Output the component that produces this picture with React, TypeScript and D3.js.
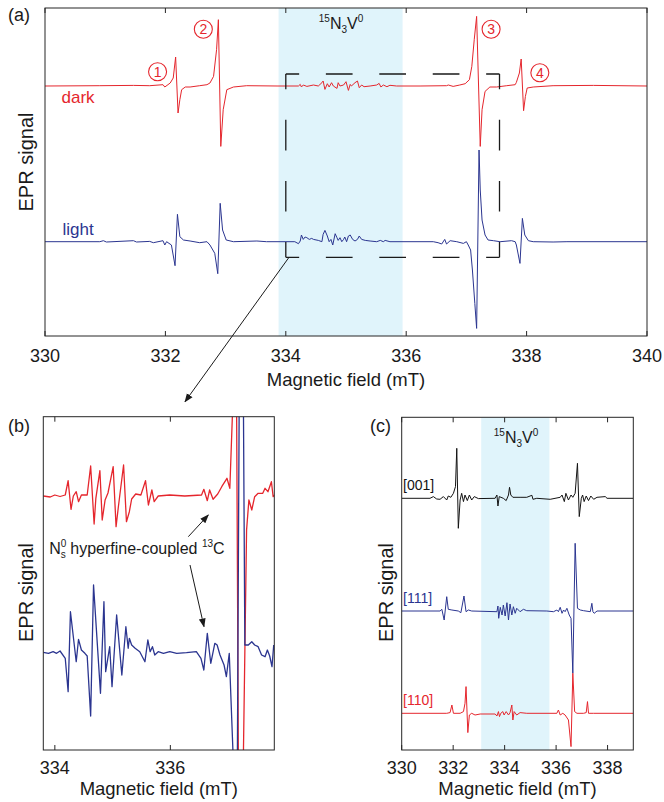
import React from "react";
import * as d3 from "d3";

type Pt = [number, number];

const FONT = "'Liberation Sans', Arial, Helvetica, sans-serif";
const RED = "#E5262D";
const BLUE = "#2B3590";
const BLACK = "#141414";
const SHADE = "#E0F4FB";
const AXIS = "#262626";

// ---------- Panel (a) ----------
const aTicks = [330, 332, 334, 336, 338, 340];
const aShade: Pt = [333.88, 335.94];
const aDarkOffset = 25;
const aLightOffset = 9.43;
const aDark: Pt[] = [
  [330.0, 0], [330.91, 0.03], [331.47, 0.06], [331.74, 0.03], [331.96, 0.13], [331.99, -0.1], [332.08, 0.3], [332.13, 0.8],
  [332.17, 2.9], [332.21, -2.7], [332.24, -1.37], [332.27, -0.37], [332.33, -0.1], [332.41, -0.1], [332.57, 0.03], [332.69, 0.13],
  [332.74, 0.3], [332.8, 0.96], [332.85, 3.63], [332.88, 6.63], [332.92, -6.04], [332.96, -2.37], [333.02, -0.37], [333.13, -0.1],
  [333.35, 0.03], [333.87, 0], [334.21, 0], [334.24, 0.16], [334.26, -0.1], [334.29, 0.1], [334.35, -0.04], [334.46, 0.1],
  [334.54, 0], [334.6, 0.33], [334.62, 0.5], [334.65, -0.34], [334.69, 0.23], [334.72, -0.1], [334.76, 0.33], [334.79, 0],
  [334.85, -0.24], [334.87, 0.33], [334.9, 0], [334.96, 0.1], [335.0, 0.43], [335.04, -0.44], [335.07, 0.16], [335.09, 0],
  [335.15, 0.33], [335.19, 0.5], [335.22, -0.17], [335.26, 0.1], [335.3, -0.07], [335.4, 0], [335.51, 0.1], [335.55, 0.26],
  [335.58, -0.1], [335.62, 0.1], [335.68, -0.07], [335.73, 0.07], [335.84, 0], [336.23, 0], [336.67, 0.03], [336.7, 0.1],
  [336.78, -0.04], [336.89, 0.1], [336.98, 0.23], [337.05, 0.63], [337.09, 1.96], [337.13, 4.63], [337.17, 6.96], [337.23, -6.04],
  [337.26, -2.37], [337.31, -0.54], [337.39, -0.1], [337.5, -0.1], [337.67, 0.03], [337.81, 0.13], [337.83, 0.36], [337.88, 1.3],
  [337.91, 2.7], [337.95, -2.47], [337.98, -1.04], [338.01, -0.2], [338.11, -0.1], [338.44, 0.03], [339.11, 0.06], [340.0, 0],
];
const aLight: Pt[] = [
  [330.0, 0], [330.91, 0], [330.97, 0.1], [331.02, -0.03], [331.47, 0.1], [331.52, -0.03], [331.74, 0.03], [331.8, -0.1],
  [331.96, 0.1], [331.99, -0.33], [332.02, 0], [332.1, -0.33], [332.16, -2.4], [332.2, 2.74], [332.24, 0.5], [332.3, 0.17],
  [332.41, 0.07], [332.57, -0.1], [332.69, 0], [332.74, -0.33], [332.82, -1.16], [332.87, -3.2], [332.91, 3.84], [332.95, 1.17],
  [333.01, 0.17], [333.13, 0], [333.52, 0.07], [333.68, 0], [334.15, 0], [334.21, -0.2], [334.24, 0.07], [334.26, 0.67],
  [334.29, 0.23], [334.32, 0.47], [334.35, 0.4], [334.39, 0.23], [334.43, 0.33], [334.46, 0.23], [334.54, 0.13], [334.6, 0],
  [334.62, 0.73], [334.65, 1.13], [334.69, 0.57], [334.72, 0], [334.75, 0.23], [334.78, -0.33], [334.82, 0.8], [334.85, 0.4],
  [334.87, 0.13], [334.9, 0.4], [334.93, 0], [334.96, 0.23], [334.98, 0.47], [335.01, 0], [335.04, 0.57], [335.07, 0.67],
  [335.11, 0.23], [335.15, 0.07], [335.19, 0.23], [335.22, 0.57], [335.26, 0.23], [335.32, 0.13], [335.4, 0.07], [335.51, 0],
  [335.57, 0.13], [335.62, 0], [335.65, 0.13], [335.73, 0], [336.45, 0], [336.53, -0.1], [336.59, -0.23], [336.64, 0.23],
  [336.67, -0.23], [336.73, 0.1], [336.84, 0], [336.95, -0.17], [337.0, 0], [337.03, -0.33], [337.07, -0.83], [337.1, -2.83],
  [337.14, -6.17], [337.17, -8.67], [337.21, 9.17], [337.23, 5.17], [337.26, 2.17], [337.31, 0.67], [337.36, 0.17], [337.45, 0.1],
  [337.56, 0], [337.75, 0.1], [337.81, 0], [337.83, -0.33], [337.89, -2.17], [337.93, 2.33], [337.97, 0.67], [338.03, 0.1],
  [338.11, 0], [338.44, -0.03], [338.67, 0], [340.0, 0],
];
const aZoomBox = { x0: 334.0, x1: 337.55, y0: 7.87, y1: 26.2 };
const aPeakLabels: { n: string; x: number; y: number }[] = [
  { n: "1", x: 331.87, y: 26.43 },
  { n: "2", x: 332.63, y: 30.67 },
  { n: "3", x: 337.41, y: 30.67 },
  { n: "4", x: 338.22, y: 26.33 },
];

// ---------- Panel (b) ----------
const bTicks = [334, 336];
const bRedOffset = 25.4;
const bBlueOffset = 9.77;
const bRed: Pt[] = [
  [333.8, 0], [333.92, -0.1], [334.0, 0.1], [334.09, -0.05], [334.18, 0.1], [334.23, 1.53], [334.28, -1.33], [334.32, 0],
  [334.37, 0.43], [334.41, -0.57], [334.46, 0.1], [334.56, 0.1], [334.62, 3.0], [334.68, -2.8], [334.71, -0.23], [334.78, 2.53],
  [334.82, -2.4], [334.87, -0.4], [334.92, 0.3], [335.01, 2.93], [335.06, -3.07], [335.1, -1.07], [335.19, 3.1], [335.24, -2.57],
  [335.29, -1.57], [335.33, -0.3], [335.4, 0.2], [335.49, 0.1], [335.57, 1.53], [335.62, -0.9], [335.68, 0.6], [335.72, -0.57],
  [335.79, 0], [335.99, 0.1], [336.25, 0], [336.54, 0.1], [336.58, 0.67], [336.64, -0.47], [336.68, 0.6], [336.74, -0.33],
  [336.82, 0.2], [336.89, 0.93], [336.98, 1.77], [337.03, 0.77], [337.09, 10.6], [337.12, 40], [337.19, -40], [337.23, -40],
  [337.32, -3.4], [337.36, -0.4], [337.41, -1.4], [337.46, -0.07], [337.52, 0.27], [337.6, 0.27], [337.64, 0.77], [337.69, 0.43],
  [337.75, 1.43], [337.78, -0.07], [337.8, 0.1],
];
const bBlue: Pt[] = [
  [333.8, 0], [333.89, -0.1], [333.97, 0.06], [334.03, -0.1], [334.09, 0.13], [334.18, -0.6], [334.23, -3.94], [334.27, 4.06],
  [334.37, -0.94], [334.41, 1.3], [334.46, 0.23], [334.52, -0.1], [334.56, -0.37], [334.62, -6.37], [334.67, 6.73], [334.79, -4.1],
  [334.85, 5.06], [334.88, -1.94], [334.95, 0.56], [334.99, -3.44], [335.07, 3.73], [335.16, -2.27], [335.23, 2.56], [335.27, 0.4],
  [335.29, 1.4], [335.33, 0.73], [335.39, 0.4], [335.47, 0.06], [335.56, -0.94], [335.61, 1.23], [335.65, 0.06], [335.69, 0.56],
  [335.73, -0.27], [335.79, 0.06], [335.88, -0.1], [335.99, 0.06], [336.11, -0.1], [336.28, -0.04], [336.45, 0.06], [336.53, -0.6],
  [336.58, -1.77], [336.64, 1.9], [336.7, -1.1], [336.77, 0.9], [336.81, 0.73], [336.86, -0.27], [336.93, -1.27], [336.97, -2.44],
  [337.02, -0.1], [337.09, -10.8], [337.13, -45], [337.21, 45], [337.26, 30], [337.29, 0.73], [337.35, 0.73], [337.41, 1.06],
  [337.46, 0.73], [337.52, 0.56], [337.58, -0.27], [337.64, -0.44], [337.68, 0.23], [337.72, -0.37], [337.76, -1.44], [337.79, 0.73],
];

// ---------- Panel (c) ----------
const cTicks = [330, 332, 334, 336, 338];
const cShade: Pt = [333.09, 335.74];
const cLabels = ["[001]", "[111]", "[110]"];
const cOffsets = [25.17, 13.9, 3.67];
const c001: Pt[] = [
  [330.0, 0], [331.1, 0], [331.23, 0.17], [331.36, -0.07], [331.49, -0.1], [331.62, 0.17], [331.75, -0.17], [331.81, 0.23],
  [331.91, 0.1], [332.01, 0.5], [332.09, 1.17], [332.14, 5.0], [332.2, -3.0], [332.27, -0.17], [332.33, 0.5], [332.4, -0.33],
  [332.46, 0.33], [332.55, -0.23], [332.63, 0.33], [332.72, -0.17], [332.82, 0.17], [332.98, -0.03], [333.63, 0], [333.7, 0.33],
  [333.74, -0.77], [333.79, 0.17], [333.95, 0], [334.06, -0.23], [334.15, 0.33], [334.19, 1.1], [334.24, 0.33], [334.32, 0.1],
  [334.6, 0.1], [334.86, 0.1], [335.06, 0.3], [335.1, -0.1], [335.25, 0], [335.77, -0.1], [336.16, 0.1], [336.23, 0.33],
  [336.32, -0.33], [336.38, 0.5], [336.48, -0.17], [336.58, 0.33], [336.65, 0.1], [336.74, 0.5], [336.83, 3.5], [336.9, -1.83],
  [336.98, 0], [337.03, 0.33], [337.09, -0.33], [337.17, 0.23], [337.26, -0.23], [337.35, 0.23], [337.46, -0.1], [337.59, 0.1],
  [337.91, 0.17], [337.98, 0], [339.0, 0],
];
const c111: Pt[] = [
  [330.0, 0], [331.49, 0], [331.56, 0.17], [331.65, -0.9], [331.75, 1.43], [331.81, 0.17], [331.95, 0.1], [332.2, 0],
  [332.3, -0.17], [332.42, 1.5], [332.5, -0.07], [332.59, 0.1], [332.72, 0], [333.7, -0.07], [333.74, 0.5], [333.77, -0.73],
  [333.83, 0.37], [333.9, -0.4], [333.95, 0.6], [334.02, -0.5], [334.09, 0.83], [334.15, -0.9], [334.21, 0.7], [334.28, -0.4],
  [334.34, 0.43], [334.41, -0.23], [334.47, 0.27], [334.6, -0.07], [334.73, 0.17], [334.86, 0.03], [335.64, 0], [335.9, -0.07],
  [336.03, 0.1], [336.09, -0.07], [336.16, 0.37], [336.23, -0.23], [336.29, 0.1], [336.35, -0.07], [336.42, 0.27], [336.51, -0.4],
  [336.58, -0.73], [336.65, -6.23], [336.74, 6.77], [336.83, 0.27], [336.94, 0.1], [337.07, 0.03], [337.33, -0.07], [337.39, 0.77],
  [337.43, -0.07], [337.48, -0.23], [337.59, 0], [339.0, 0],
];
const c110: Pt[] = [
  [330.0, 0], [331.75, 0], [331.88, 0.07], [331.95, 0.83], [332.01, 0], [332.27, 0], [332.4, 0.17], [332.46, 1.0],
  [332.5, 2.67], [332.57, -1.93], [332.63, -0.17], [332.72, 0], [332.85, -0.17], [333.05, -0.07], [333.63, -0.07], [333.7, -0.27],
  [333.76, 0.17], [333.8, -0.33], [333.85, 0], [333.93, 0.17], [333.98, -0.17], [334.06, 0.17], [334.15, -0.17], [334.21, 0.07],
  [334.28, 0.83], [334.32, -0.67], [334.37, 0.17], [334.47, -0.17], [334.6, 0.07], [334.86, 0], [336.03, 0], [336.09, 0.33],
  [336.16, -0.17], [336.26, 0], [336.35, -0.17], [336.48, -0.67], [336.58, -3.33], [336.65, 4.0], [336.72, 0.17], [336.81, 0],
  [337.07, 0], [337.17, 0.07], [337.22, 1.17], [337.26, 0], [337.46, 0], [339.0, 0],
];

type Scale = d3.ScaleLinear<number, number>;

function Trace({ data, offset, x, y, color, width, clip }: { data: Pt[]; offset: number; x: Scale; y: Scale; color: string; width: number; clip: string }) {
  const line = d3.line<Pt>().x((d) => x(d[0])).y((d) => y(d[1] + offset));
  return <path d={line(data) || ""} fill="none" stroke={color} strokeWidth={width} strokeLinejoin="round" clipPath={`url(#${clip})`} />;
}

function Frame({ x, y, ticks, labelGap, xlabelY }: { x: Scale; y: Scale; ticks: number[]; labelGap: number; xlabelY: number }) {
  const [xa, xb] = x.range();
  const [yb, yt] = y.range();
  return (
    <g>
      <rect x={xa} y={yt} width={xb - xa} height={yb - yt} fill="none" stroke={AXIS} strokeWidth={1} />
      {ticks.map((t) => (
        <g key={t}>
          <line x1={x(t)} x2={x(t)} y1={yb} y2={yb - 5} stroke={AXIS} strokeWidth={1} />
          <line x1={x(t)} x2={x(t)} y1={yt} y2={yt + 5} stroke={AXIS} strokeWidth={1} />
          <text x={x(t)} y={yb + labelGap} textAnchor="middle" fontSize={18} fill="#1a1a1a">
            {t}
          </text>
        </g>
      ))}
      <text x={(xa + xb) / 2} y={xlabelY} textAnchor="middle" fontSize={18.5} fill="#1a1a1a">
        Magnetic field (mT)
      </text>
    </g>
  );
}

function YLabel({ x, y }: { x: number; y: number }) {
  return (
    <text transform={`translate(${x},${y}) rotate(-90)`} textAnchor="middle" fontSize={20} fill="#1a1a1a">
      EPR signal
    </text>
  );
}

function NVLabel({ x, y }: { x: number; y: number }) {
  return (
    <text x={x} y={y} textAnchor="middle" fontSize={16} fill="#1a1a1a">
      <tspan fontSize={10} dy={-7}>15</tspan>
      <tspan dy={7}>N</tspan>
      <tspan fontSize={10} dy={4}>3</tspan>
      <tspan dy={-4}>V</tspan>
      <tspan fontSize={10} dy={-7}>0</tspan>
    </text>
  );
}

function DashedSide({ x1, y1, x2, y2, n }: { x1: number; y1: number; x2: number; y2: number; n: number }) {
  const L = Math.hypot(x2 - x1, y2 - y1);
  const d = L / (2 * n);
  return <line x1={x1} y1={y1} x2={x2} y2={y2} stroke="#1a1a1a" strokeWidth={1.3} strokeDasharray={`${d} ${d}`} strokeDashoffset={d / 2} />;
}

export default function App() {
  // panel scales
  const ax = d3.scaleLinear().domain([330, 340]).range([45, 647]);
  const ay = d3.scaleLinear().domain([0, 32.8]).range([336, 8]);
  const bx = d3.scaleLinear().domain([333.8, 337.8]).range([43.3, 274.3]);
  const by = d3.scaleLinear().domain([0, 33.33]).range([750, 416.7]);
  const cx = d3.scaleLinear().domain([330, 339]).range([401.7, 633.3]);
  const cy = d3.scaleLinear().domain([0, 33.27]).range([750, 417.3]);

  const bx0 = ax(aZoomBox.x0), bx1 = ax(aZoomBox.x1), byTop = ay(aZoomBox.y1), byBot = ay(aZoomBox.y0);
  const cSeries = [c001, c111, c110];
  const cColors = [BLACK, BLUE, RED];

  return (
    <svg width={664} height={802} style={{ position: "absolute", left: 0, top: 0, background: "#fff" }} fontFamily={FONT}>
      <defs>
        <clipPath id="clipA"><rect x={45} y={8} width={602} height={328} /></clipPath>
        <clipPath id="clipB"><rect x={43.3} y={416.7} width={231} height={333.3} /></clipPath>
        <clipPath id="clipC"><rect x={401.7} y={417.3} width={231.6} height={332.7} /></clipPath>
        <marker id="arrowHead" viewBox="0 0 10 10" refX="9" refY="5" markerWidth="9" markerHeight="9" markerUnits="userSpaceOnUse" orient="auto">
          <path d="M0,1.2 L10,5 L0,8.8 z" fill="#1a1a1a" />
        </marker>
      </defs>
      <rect x={0} y={0} width={664} height={802} fill="#fff" />

      {/* ===== Panel (a) ===== */}
      <rect x={ax(aShade[0])} y={8} width={ax(aShade[1]) - ax(aShade[0])} height={328} fill={SHADE} />
      <Trace data={aDark} offset={aDarkOffset} x={ax} y={ay} color={RED} width={1} clip="clipA" />
      <Trace data={aLight} offset={aLightOffset} x={ax} y={ay} color={BLUE} width={1} clip="clipA" />
      <DashedSide x1={bx0} y1={byTop} x2={bx1} y2={byTop} n={4} />
      <DashedSide x1={bx0} y1={byBot} x2={bx1} y2={byBot} n={4} />
      <DashedSide x1={bx0} y1={byTop} x2={bx0} y2={byBot} n={3} />
      <DashedSide x1={bx1} y1={byTop} x2={bx1} y2={byBot} n={3} />
      <Frame x={ax} y={ay} ticks={aTicks} labelGap={26} xlabelY={386} />
      <YLabel x={33} y={162} />
      <NVLabel x={341} y={28.5} />
      <text x={61.5} y={102.5} fontSize={17} fill={RED}>dark</text>
      <text x={62.5} y={235} fontSize={17} fill={BLUE}>light</text>
      {aPeakLabels.map((p) => (
        <g key={p.n}>
          <circle cx={ax(p.x)} cy={ay(p.y)} r={9} fill="none" stroke={RED} strokeWidth={1.1} />
          <text x={ax(p.x)} y={ay(p.y) + 5} textAnchor="middle" fontSize={14} fill={RED}>{p.n}</text>
        </g>
      ))}
      <line x1={288.5} y1={258} x2={185} y2={401.7} stroke="#1a1a1a" strokeWidth={1} markerEnd="url(#arrowHead)" />
      <text x={8} y={21} fontSize={18} fill="#1a1a1a">(a)</text>

      {/* ===== Panel (b) ===== */}
      <Trace data={bRed} offset={bRedOffset} x={bx} y={by} color={RED} width={1.3} clip="clipB" />
      <Trace data={bBlue} offset={bBlueOffset} x={bx} y={by} color={BLUE} width={1.3} clip="clipB" />
      <Frame x={bx} y={by} ticks={bTicks} labelGap={24} xlabelY={795} />
      <YLabel x={33} y={592.5} />
      <text x={8} y={432} fontSize={18} fill="#1a1a1a">(b)</text>
      <text x={49.3} y={554.3} fontSize={16} fill="#1a1a1a">
        N<tspan fontSize={10} dy={-7}>0</tspan>
        <tspan fontSize={10} dx={-5.6} dy={11}>s</tspan>
        <tspan dy={-4}>{" hyperfine-coupled "}</tspan>
        <tspan fontSize={10} dy={-7}>13</tspan>
        <tspan dy={7}>C</tspan>
      </text>
      <line x1={188.3} y1={536.7} x2={208.3} y2={515} stroke="#1a1a1a" strokeWidth={1} markerEnd="url(#arrowHead)" />
      <line x1={190} y1={565} x2={204} y2={626.7} stroke="#1a1a1a" strokeWidth={1} markerEnd="url(#arrowHead)" />

      {/* ===== Panel (c) ===== */}
      <rect x={cx(cShade[0])} y={417.3} width={cx(cShade[1]) - cx(cShade[0])} height={332.7} fill={SHADE} />
      {cSeries.map((s, i) => (
        <Trace key={i} data={s} offset={cOffsets[i]} x={cx} y={cy} color={cColors[i]} width={1} clip="clipC" />
      ))}
      {cLabels.map((l, i) => (
        <text key={l} x={403} y={cy(cOffsets[i]) - 8.5} fontSize={14} fill={cColors[i]}>{l}</text>
      ))}
      <Frame x={cx} y={cy} ticks={cTicks} labelGap={24} xlabelY={795} />
      <YLabel x={393} y={592.5} />
      <NVLabel x={516} y={443.3} />
      <text x={370} y={432} fontSize={18} fill="#1a1a1a">(c)</text>
    </svg>
  );
}
